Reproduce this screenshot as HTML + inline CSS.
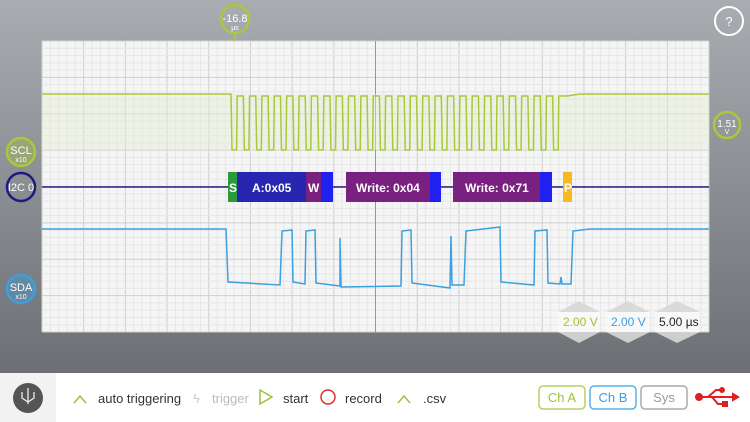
<!DOCTYPE html>
<html><head><meta charset="utf-8"><style>
html,body{margin:0;padding:0;width:750px;height:422px;overflow:hidden;font-family:"Liberation Sans",sans-serif}
svg{display:block}
</style></head><body>
<svg id="s" width="750" height="422" xmlns="http://www.w3.org/2000/svg">
<defs><linearGradient id="bg" x1="0" y1="0" x2="0" y2="1">
<stop offset="0" stop-color="#a9adb1"/><stop offset="1" stop-color="#6c6f73"/></linearGradient></defs>
<rect width="750" height="373" fill="url(#bg)"/>
<rect x="42" y="41" width="667" height="291" fill="#f5f5f5"/>
<g id="grid"></g>
<rect x="42" y="94" width="667" height="56" fill="#e6edd2" opacity="0.45"/>
<g id="sig"></g>
<!-- I2C -->
<line x1="42" y1="187" x2="709" y2="187" stroke="#2a2a8a" stroke-width="1.5"/>
<rect x="228" y="172" width="9" height="30" fill="#2a9a3a"/>
<rect x="237" y="172" width="69" height="30" fill="#2626b0"/>
<rect x="306" y="172" width="15" height="30" fill="#7a2080"/>
<rect x="321" y="172" width="12" height="30" fill="#2020f0"/>
<rect x="346" y="172" width="84" height="30" fill="#7a2080"/>
<rect x="430" y="172" width="11" height="30" fill="#2020f0"/>
<rect x="453" y="172" width="87" height="30" fill="#7a2080"/>
<rect x="540" y="172" width="12" height="30" fill="#2020f0"/>
<rect x="563" y="172" width="9" height="30" fill="#f8b820"/>
<g font-weight="bold" fill="#fff" font-size="12">
<text x="229" y="192">S</text><text x="252" y="192">A:0x05</text><text x="308" y="192">W</text>
<text x="356" y="192">Write: 0x04</text><text x="465" y="192">Write: 0x71</text><text x="564" y="192">P</text></g>
<!-- scale boxes -->
<g fill="#d8d8d8" opacity="0.9">
<polygon points="579,301 600,312 558,312"/><polygon points="579,343 600,332 558,332"/>
<polygon points="628,301 650,312 606,312"/><polygon points="628,343 650,332 606,332"/>
<polygon points="677,301 700,312 655,312"/><polygon points="677,343 700,332 655,332"/></g>
<rect x="558" y="312" width="42" height="20" fill="#f8f8f8"/>
<rect x="606" y="312" width="44" height="20" fill="#f8f8f8"/>
<rect x="655" y="312" width="45" height="20" fill="#f8f8f8"/>
<g font-size="12"><text x="563" y="326" fill="#9cc23a">2.00 V</text><text x="611" y="326" fill="#3aa0e0">2.00 V</text><text x="659" y="326" fill="#222">5.00 µs</text></g>
<!-- circles -->
<line x1="235" y1="33" x2="235" y2="41" stroke="#a9c93a" stroke-width="2"/>
<circle cx="235" cy="19" r="14" fill="none" stroke="#a9c93a" stroke-width="2.5"/>
<text x="235" y="22" fill="#fff" font-size="11" text-anchor="middle">-16.8</text>
<text x="235" y="30" fill="#fff" font-size="7" text-anchor="middle">µs</text>
<circle cx="729" cy="21" r="14" fill="none" stroke="#fff" stroke-width="2"/>
<text x="729" y="26" fill="#fff" font-size="13" text-anchor="middle">?</text>
<circle cx="727" cy="125" r="13" fill="none" stroke="#a9c93a" stroke-width="2.5"/>
<text x="727" y="127" fill="#fff" font-size="10" text-anchor="middle">1.51</text>
<text x="727" y="134" fill="#fff" font-size="7" text-anchor="middle">V</text>
<circle cx="21" cy="152" r="14" fill="#a9c93a" fill-opacity="0.35" stroke="#a9c93a" stroke-width="2.5"/>
<text x="21" y="154" fill="#fff" font-size="11" text-anchor="middle">SCL</text>
<text x="21" y="162" fill="#fff" font-size="7" text-anchor="middle">x10</text>
<circle cx="21" cy="187" r="14" fill="none" stroke="#1c1c80" stroke-width="2.5"/>
<text x="21" y="191" fill="#fff" font-size="11" text-anchor="middle">I2C 0</text>
<circle cx="21" cy="289" r="14" fill="#3aa0e0" fill-opacity="0.35" stroke="#3aa0e0" stroke-width="2.5"/>
<text x="21" y="291" fill="#fff" font-size="11" text-anchor="middle">SDA</text>
<text x="21" y="299" fill="#fff" font-size="7" text-anchor="middle">x10</text>
<!-- bottom bar -->
<rect x="0" y="373" width="750" height="49" fill="#fff"/>
<rect x="0" y="373" width="56" height="49" fill="#f2f2f2"/>
<circle cx="28" cy="398" r="15" fill="#555"/>
<g stroke="#eee" stroke-width="1.3" fill="none"><path d="M28 388v16M22 392v6l6 4M34 392v6l-6 4"/></g>
<g font-size="13">
<polyline points="74,403 80,396 86,403" fill="none" stroke="#9cc23a" stroke-width="1.5"/>
<text x="98" y="403" fill="#333">auto triggering</text>
<text x="193" y="403" fill="#ccc">ϟ</text><text x="212" y="403" fill="#bbb">trigger</text>
<polygon points="260,390 272,397 260,404" fill="none" stroke="#9cc23a" stroke-width="1.5"/>
<text x="283" y="403" fill="#333">start</text>
<circle cx="328" cy="397" r="7" fill="none" stroke="#e03030" stroke-width="1.5"/>
<text x="345" y="403" fill="#333">record</text>
<polyline points="398,403 404,396 410,403" fill="none" stroke="#9cc23a" stroke-width="1.5"/>
<text x="423" y="403" fill="#333">.csv</text>
<rect x="539" y="386" width="46" height="23" rx="4" fill="none" stroke="#b8d060" stroke-width="1.5"/>
<text x="562" y="402" fill="#9cc23a" text-anchor="middle">Ch A</text>
<rect x="590" y="386" width="46" height="23" rx="4" fill="none" stroke="#5ab0e8" stroke-width="1.5"/>
<text x="613" y="402" fill="#3aa0e0" text-anchor="middle">Ch B</text>
<rect x="641" y="386" width="46" height="23" rx="4" fill="none" stroke="#aaa" stroke-width="1.5"/>
<text x="664" y="402" fill="#999" text-anchor="middle">Sys</text></g>
<g stroke="#e02020" stroke-width="2" fill="#e02020">
<circle cx="699" cy="397" r="3"/><line x1="699" y1="397" x2="733" y2="397"/>
<polyline points="708,397 716,390 722,390" fill="none"/><polyline points="712,397 718,404 724,404" fill="none"/>
<circle cx="722" cy="390" r="2"/><rect x="723" y="402" width="4" height="4"/>
<polygon points="733,394 738,397 733,400"/></g>
</svg>
<script>
var g=document.getElementById("grid"),h="";
var x0=42,x1=709,y0=41,y1=332,dx=(x1-x0)/16,dy=(y1-y0)/8;
for(var i=0;i<=80;i++){var x=x0+i*dx/5;h+='<line x1="'+x+'" y1="'+y0+'" x2="'+x+'" y2="'+y1+'" stroke="'+(i%5?"#e6e6e6":"#cfcfcf")+'" stroke-width="1"/>';}
for(var j=0;j<=40;j++){var y=y0+j*dy/5;h+='<line x1="'+x0+'" y1="'+y+'" x2="'+x1+'" y2="'+y+'" stroke="'+(j%5?"#e6e6e6":"#cfcfcf")+'" stroke-width="1"/>';}
var cx=x0+8*dx,cy=y0+4*dy;
h+='<line x1="'+cx+'" y1="'+y0+'" x2="'+cx+'" y2="'+y1+'" stroke="#888" stroke-width="0.8"/>';
h+='<line x1="'+x0+'" y1="'+cy+'" x2="'+x1+'" y2="'+cy+'" stroke="#888" stroke-width="0.8"/>';
g.innerHTML=h;
var p="M42 94 L231 94",n=27,per=(565-231)/n;
for(var k=0;k<n;k++){var a=231+k*per;p+=" L"+(a+1)+" 150 L"+(a+per*0.45)+" 150 L"+(a+per*0.5)+" 96 L"+(a+per)+" 96";}
p+=" L567 96 L580 94 L709 94";
var hp=231;
var q="M42 229 L226 229 L228 282 L280 285 L282 "+hp+" L292 230 L293 282 L305 284 L306 "+hp+" L315 230 L316 283 L340 286 L340 238 L341 287 L401 286 L402 "+hp+" L411 230 L412 283 L450 288 L451 236 L452 285 L464 285 L466 "+hp+" L500 227 L501 282 L534 285 L535 "+hp+" L547 230 L548 283 L560 284 L561 277 L562 284 L571 284 L573 "+hp+" L590 229 L709 229";
document.getElementById("sig").innerHTML='<path d="'+p+'" fill="none" stroke="#a9c93a" stroke-width="1.5"/><path d="'+q+'" fill="none" stroke="#3aa0e0" stroke-width="1.5"/>';
</script>
</body></html>
